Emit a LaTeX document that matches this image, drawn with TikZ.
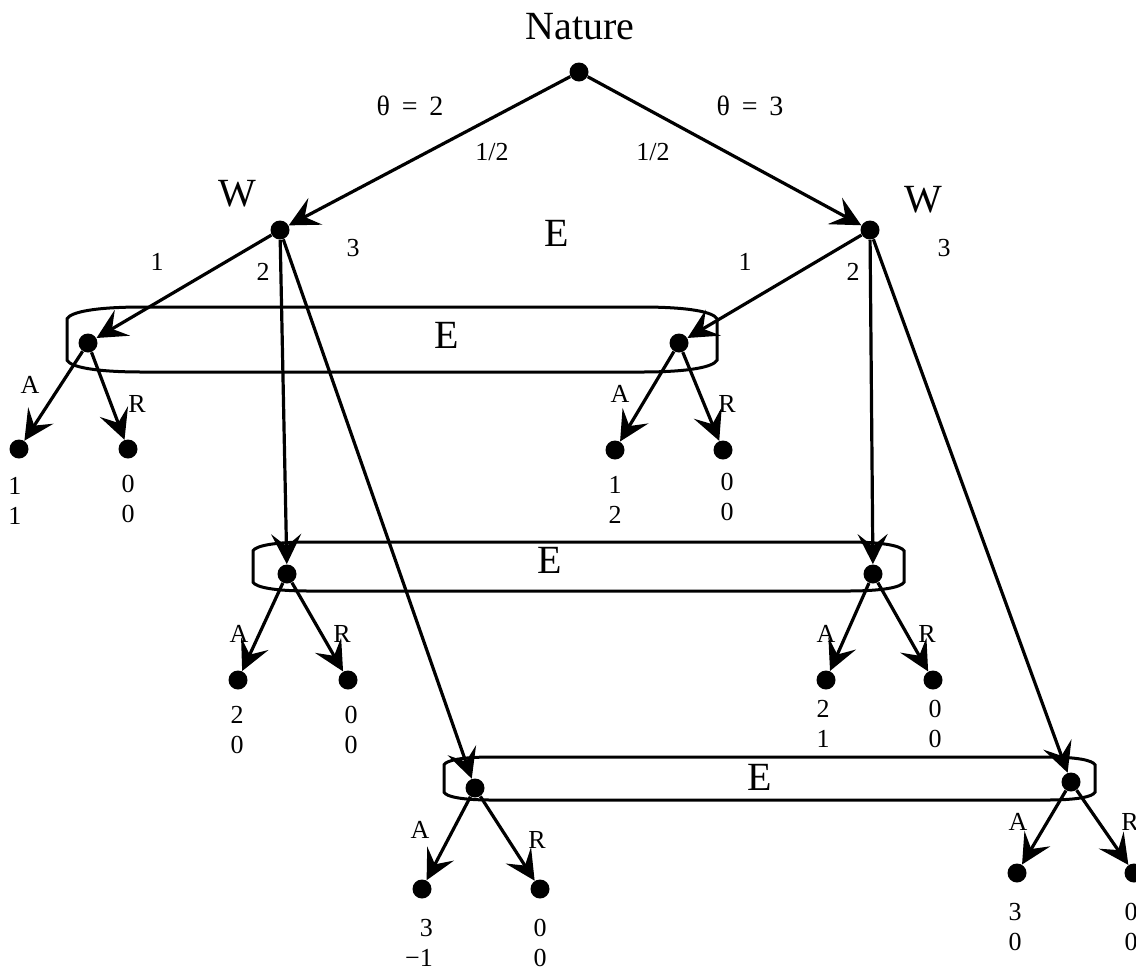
\documentclass[tikz,border=0pt]{standalone}
\usepackage{fontspec}
\setmainfont{Liberation Serif}
\usetikzlibrary{arrows.meta}

% information set: x0, x1, y0, y1, corner
\newcommand{\infoset}[5]{%
  \draw[setline] ({#1+#5},#3) -- ({#2-#5},#3)
    .. controls ({#2-0.35*#5},#3) and ({#2-0.05*#5},{#3+0.08*(#4-#3)}) .. (#2,{#3+0.18*(#4-#3)})
    -- (#2,{#4-0.18*(#4-#3)})
    .. controls ({#2-0.05*#5},{#4-0.08*(#4-#3)}) and ({#2-0.35*#5},#4) .. ({#2-#5},#4)
    -- ({#1+#5},#4)
    .. controls ({#1+0.35*#5},#4) and ({#1+0.05*#5},{#4-0.08*(#4-#3)}) .. (#1,{#4-0.18*(#4-#3)})
    -- (#1,{#3+0.18*(#4-#3)})
    .. controls ({#1+0.05*#5},{#3+0.08*(#4-#3)}) and ({#1+0.35*#5},#3) .. ({#1+#5},#3) -- cycle;}

\begin{document}
\begin{tikzpicture}[x=0.5pt,y=-0.5pt,
  dot/.style={circle,fill,inner sep=0pt,minimum size=9.5pt},
  mv/.style={line width=1.6pt,-{Stealth[length=15pt,width=15pt,inset=6pt]}},
  setline/.style={line width=1.5pt},
  plr/.style={anchor=base,inner sep=0pt,font=\fontsize{20}{24}\selectfont},
  lbl/.style={anchor=base,inner sep=0pt,font=\fontsize{13}{15}\selectfont},
  pay/.style={inner sep=0pt,align=right,font=\fontsize{13}{15}\selectfont}]

\useasboundingbox (0,0) rectangle (1136,971);
\clip (0,0) rectangle (1136,971);

% information sets of E
\infoset{67}{717}{307}{372}{76}
\infoset{253}{904}{542}{591}{57}
\infoset{444}{1095}{757}{800}{48}

% decision nodes
\node[dot] (nat) at (579,72) {};
\node[dot] (wl) at (280,230) {};
\node[dot] (wr) at (870,230) {};
\node[dot] (e1l) at (88,343) {};
\node[dot] (e1r) at (679,343) {};
\node[dot] (e2l) at (287,574) {};
\node[dot] (e2r) at (873,574) {};
\node[dot] (e3l) at (475,788) {};
\node[dot] (e3r) at (1071,782) {};

% end nodes
\node[dot] (a1l) at (19,449) {};
\node[dot] (r1l) at (128,449) {};
\node[dot] (a1r) at (615,450) {};
\node[dot] (r1r) at (723,450) {};
\node[dot] (a2l) at (238,680) {};
\node[dot] (r2l) at (348,680) {};
\node[dot] (a2r) at (826,680) {};
\node[dot] (r2r) at (933,680) {};
\node[dot] (a3l) at (422,889) {};
\node[dot] (r3l) at (540,889) {};
\node[dot] (a3r) at (1017,873) {};
\node[dot] (r3r) at (1134,873) {};

% moves
\draw[mv] (nat) -- (wl);
\draw[mv] (nat) -- (wr);
\draw[mv] (wl) -- (e1l);
\draw[mv] (wl) -- (e2l);
\draw[mv] (wl) -- (e3l);
\draw[mv] (wr) -- (e1r);
\draw[mv] (wr) -- (e2r);
\draw[mv] (wr) -- (e3r);
\draw[mv] (e1l) -- (a1l);
\draw[mv] (e1l) -- (r1l);
\draw[mv] (e1r) -- (a1r);
\draw[mv] (e1r) -- (r1r);
\draw[mv] (e2l) -- (a2l);
\draw[mv] (e2l) -- (r2l);
\draw[mv] (e2r) -- (a2r);
\draw[mv] (e2r) -- (r2r);
\draw[mv] (e3l) -- (a3l);
\draw[mv] (e3l) -- (r3l);
\draw[mv] (e3r) -- (a3r);
\draw[mv] (e3r) -- (r3r);

% players
\node[plr] (natname) at (580,39) {Nature};
\node[plr] (wlname) at (237,206) {W};
\node[plr] (wrname) at (923,212) {W};
\node[plr] (ename) at (557,246) {E};
\node[plr] (e1name) at (447,348) {E};
\node[plr] (e2name) at (550,573) {E};
\node[plr] (e3name) at (760,790) {E};

% nature's moves
\node[lbl,font=\fontsize{14}{16}\selectfont] (th2) at (410,115) {θ\ \,=\ \,2};
\node[lbl,font=\fontsize{14}{16}\selectfont] (th3) at (750,115) {θ\ \,=\ \,3};
\node[lbl] (pl) at (492,160) {1/2};
\node[lbl] (pr) at (653,160) {1/2};

% education levels
\node[lbl] (l1) at (157,270) {1};
\node[lbl] (l2) at (263,280) {2};
\node[lbl] (l3) at (353,256) {3};
\node[lbl] (r1) at (745,270) {1};
\node[lbl] (r2) at (853,280) {2};
\node[lbl] (r3) at (944,256) {3};

% accept / reject
\node[lbl] (a1lt) at (30,393) {A};
\node[lbl] (r1lt) at (137,412) {R};
\node[lbl] (a1rt) at (620,402) {A};
\node[lbl] (r1rt) at (727,412) {R};
\node[lbl] (a2lt) at (239,642) {A};
\node[lbl] (r2lt) at (342,642) {R};
\node[lbl] (a2rt) at (826,642) {A};
\node[lbl] (r2rt) at (927,642) {R};
\node[lbl] (a3lt) at (420,838) {A};
\node[lbl] (r3lt) at (537,848) {R};
\node[lbl] (a3rt) at (1018,830) {A};
\node[lbl] (r3rt) at (1130,830) {R};

% payoffs
\node[pay] (p1) at (15,501) {1\\1};
\node[pay] (p2) at (128,499) {0\\0};
\node[pay] (p3) at (615,500) {1\\2};
\node[pay] (p4) at (727,497) {0\\0};
\node[pay] (p5) at (237,730) {2\\0};
\node[pay] (p6) at (351,730) {0\\0};
\node[pay] (p7) at (823,724) {2\\1};
\node[pay] (p8) at (935,724) {0\\0};
\node[pay] (p9) at (419,943) {3\\−1};
\node[pay] (p10) at (540,943) {0\\0};
\node[pay] (p11) at (1015,927) {3\\0};
\node[pay] (p12) at (1131,927) {0\\0};

\end{tikzpicture}
\end{document}
